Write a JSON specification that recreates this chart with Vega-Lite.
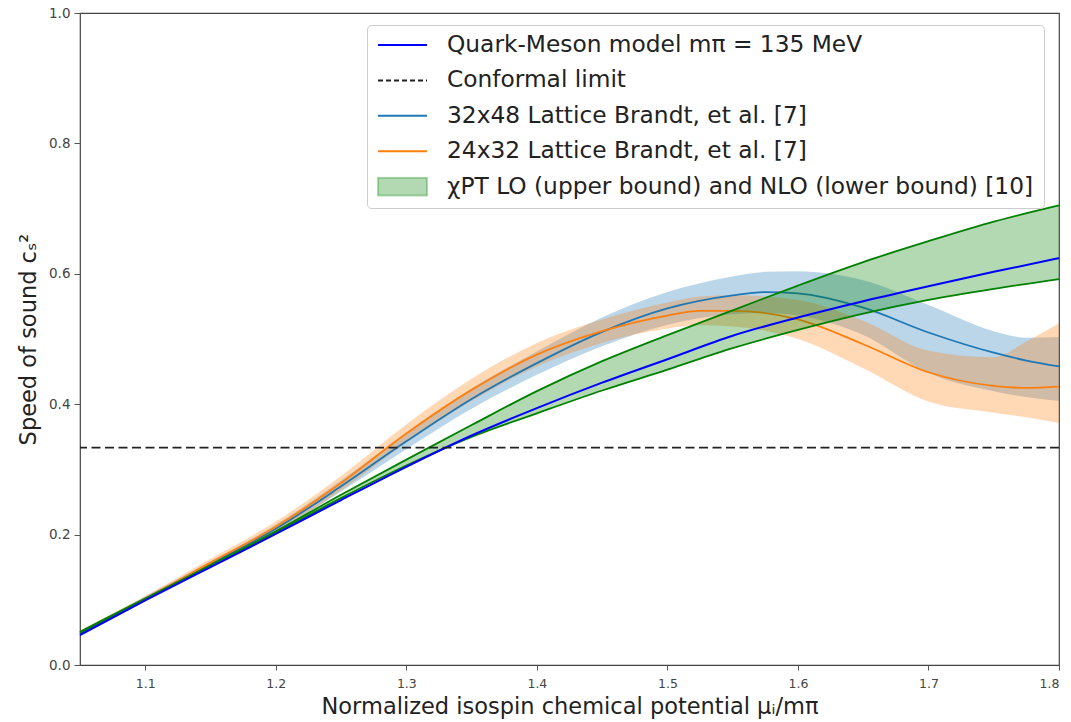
{
  "$schema": "https://vega.github.io/schema/vega-lite/v6.json",
  "width": 979,
  "height": 652,
  "autosize": {"type": "none"},
  "padding": {"left": 80, "top": 13, "right": 12, "bottom": 57},
  "background": "white",
  "config": {
    "font": "DejaVu Sans",
    "view": {"stroke": "#444444", "strokeWidth": 1.2},
    "axis": {
      "grid": false,
      "domain": false,
      "labelFont": "DejaVu Sans",
      "labelColor": "#444444",
      "tickColor": "#555555",
      "tickWidth": 1,
      "titleFont": "DejaVu Sans",
      "titleFontSize": 22.5,
      "titleFontWeight": "normal",
      "titleColor": "#222222"
    }
  },
  "datasets": {
    "bands": [
      {"series": "32x48 Lattice Brandt, et al. [7]", "x": 1.05, "lo": 0.048, "mid": 0.050, "hi": 0.052},
      {"series": "32x48 Lattice Brandt, et al. [7]", "x": 1.10, "lo": 0.099, "mid": 0.102, "hi": 0.105},
      {"series": "32x48 Lattice Brandt, et al. [7]", "x": 1.15, "lo": 0.151, "mid": 0.155, "hi": 0.159},
      {"series": "32x48 Lattice Brandt, et al. [7]", "x": 1.20, "lo": 0.203, "mid": 0.209, "hi": 0.215},
      {"series": "32x48 Lattice Brandt, et al. [7]", "x": 1.25, "lo": 0.266, "mid": 0.274, "hi": 0.283},
      {"series": "32x48 Lattice Brandt, et al. [7]", "x": 1.30, "lo": 0.331, "mid": 0.343, "hi": 0.356},
      {"series": "32x48 Lattice Brandt, et al. [7]", "x": 1.35, "lo": 0.393, "mid": 0.408, "hi": 0.424},
      {"series": "32x48 Lattice Brandt, et al. [7]", "x": 1.40, "lo": 0.445, "mid": 0.463, "hi": 0.481},
      {"series": "32x48 Lattice Brandt, et al. [7]", "x": 1.45, "lo": 0.489, "mid": 0.511, "hi": 0.533},
      {"series": "32x48 Lattice Brandt, et al. [7]", "x": 1.50, "lo": 0.522, "mid": 0.547, "hi": 0.572},
      {"series": "32x48 Lattice Brandt, et al. [7]", "x": 1.55, "lo": 0.538, "mid": 0.567, "hi": 0.596},
      {"series": "32x48 Lattice Brandt, et al. [7]", "x": 1.575, "lo": 0.540, "mid": 0.572, "hi": 0.603},
      {"series": "32x48 Lattice Brandt, et al. [7]", "x": 1.60, "lo": 0.536, "mid": 0.570, "hi": 0.604},
      {"series": "32x48 Lattice Brandt, et al. [7]", "x": 1.65, "lo": 0.506, "mid": 0.548, "hi": 0.590},
      {"series": "32x48 Lattice Brandt, et al. [7]", "x": 1.70, "lo": 0.448, "mid": 0.510, "hi": 0.552},
      {"series": "32x48 Lattice Brandt, et al. [7]", "x": 1.75, "lo": 0.420, "mid": 0.479, "hi": 0.512},
      {"series": "32x48 Lattice Brandt, et al. [7]", "x": 1.775, "lo": 0.411, "mid": 0.467, "hi": 0.502},
      {"series": "32x48 Lattice Brandt, et al. [7]", "x": 1.80, "lo": 0.405, "mid": 0.458, "hi": 0.503},

      {"series": "24x32 Lattice Brandt, et al. [7]", "x": 1.05, "lo": 0.047, "mid": 0.050, "hi": 0.053},
      {"series": "24x32 Lattice Brandt, et al. [7]", "x": 1.10, "lo": 0.098, "mid": 0.102, "hi": 0.106},
      {"series": "24x32 Lattice Brandt, et al. [7]", "x": 1.15, "lo": 0.151, "mid": 0.157, "hi": 0.163},
      {"series": "24x32 Lattice Brandt, et al. [7]", "x": 1.20, "lo": 0.204, "mid": 0.212, "hi": 0.220},
      {"series": "24x32 Lattice Brandt, et al. [7]", "x": 1.25, "lo": 0.268, "mid": 0.279, "hi": 0.290},
      {"series": "24x32 Lattice Brandt, et al. [7]", "x": 1.30, "lo": 0.341, "mid": 0.355, "hi": 0.369},
      {"series": "24x32 Lattice Brandt, et al. [7]", "x": 1.35, "lo": 0.405, "mid": 0.422, "hi": 0.439},
      {"series": "24x32 Lattice Brandt, et al. [7]", "x": 1.40, "lo": 0.458, "mid": 0.476, "hi": 0.494},
      {"series": "24x32 Lattice Brandt, et al. [7]", "x": 1.45, "lo": 0.494, "mid": 0.512, "hi": 0.530},
      {"series": "24x32 Lattice Brandt, et al. [7]", "x": 1.50, "lo": 0.516, "mid": 0.536, "hi": 0.556},
      {"series": "24x32 Lattice Brandt, et al. [7]", "x": 1.525, "lo": 0.521, "mid": 0.543, "hi": 0.565},
      {"series": "24x32 Lattice Brandt, et al. [7]", "x": 1.55, "lo": 0.519, "mid": 0.543, "hi": 0.567},
      {"series": "24x32 Lattice Brandt, et al. [7]", "x": 1.60, "lo": 0.500, "mid": 0.530, "hi": 0.560},
      {"series": "24x32 Lattice Brandt, et al. [7]", "x": 1.65, "lo": 0.455, "mid": 0.492, "hi": 0.528},
      {"series": "24x32 Lattice Brandt, et al. [7]", "x": 1.70, "lo": 0.404, "mid": 0.449, "hi": 0.482},
      {"series": "24x32 Lattice Brandt, et al. [7]", "x": 1.75, "lo": 0.387, "mid": 0.428, "hi": 0.472},
      {"series": "24x32 Lattice Brandt, et al. [7]", "x": 1.775, "lo": 0.380, "mid": 0.425, "hi": 0.496},
      {"series": "24x32 Lattice Brandt, et al. [7]", "x": 1.80, "lo": 0.371, "mid": 0.427, "hi": 0.524},

      {"series": "χPT LO (upper bound) and NLO (lower bound) [10]", "x": 1.05, "lo": 0.049, "hi": 0.051},
      {"series": "χPT LO (upper bound) and NLO (lower bound) [10]", "x": 1.10, "lo": 0.101, "hi": 0.102},
      {"series": "χPT LO (upper bound) and NLO (lower bound) [10]", "x": 1.15, "lo": 0.152, "hi": 0.153},
      {"series": "χPT LO (upper bound) and NLO (lower bound) [10]", "x": 1.20, "lo": 0.203, "hi": 0.205},
      {"series": "χPT LO (upper bound) and NLO (lower bound) [10]", "x": 1.25, "lo": 0.256, "hi": 0.261},
      {"series": "χPT LO (upper bound) and NLO (lower bound) [10]", "x": 1.30, "lo": 0.306, "hi": 0.315},
      {"series": "χPT LO (upper bound) and NLO (lower bound) [10]", "x": 1.35, "lo": 0.350, "hi": 0.368},
      {"series": "χPT LO (upper bound) and NLO (lower bound) [10]", "x": 1.40, "lo": 0.386, "hi": 0.420},
      {"series": "χPT LO (upper bound) and NLO (lower bound) [10]", "x": 1.45, "lo": 0.421, "hi": 0.466},
      {"series": "χPT LO (upper bound) and NLO (lower bound) [10]", "x": 1.50, "lo": 0.453, "hi": 0.506},
      {"series": "χPT LO (upper bound) and NLO (lower bound) [10]", "x": 1.55, "lo": 0.486, "hi": 0.544},
      {"series": "χPT LO (upper bound) and NLO (lower bound) [10]", "x": 1.60, "lo": 0.514, "hi": 0.582},
      {"series": "χPT LO (upper bound) and NLO (lower bound) [10]", "x": 1.65, "lo": 0.539, "hi": 0.618},
      {"series": "χPT LO (upper bound) and NLO (lower bound) [10]", "x": 1.70, "lo": 0.560, "hi": 0.650},
      {"series": "χPT LO (upper bound) and NLO (lower bound) [10]", "x": 1.75, "lo": 0.577, "hi": 0.680},
      {"series": "χPT LO (upper bound) and NLO (lower bound) [10]", "x": 1.80, "lo": 0.592, "hi": 0.705}
    ],
    "qm": [
      {"series": "Quark-Meson model mπ = 135 MeV", "x": 1.05, "y": 0.046},
      {"series": "Quark-Meson model mπ = 135 MeV", "x": 1.10, "y": 0.099},
      {"series": "Quark-Meson model mπ = 135 MeV", "x": 1.15, "y": 0.150},
      {"series": "Quark-Meson model mπ = 135 MeV", "x": 1.20, "y": 0.201},
      {"series": "Quark-Meson model mπ = 135 MeV", "x": 1.25, "y": 0.253},
      {"series": "Quark-Meson model mπ = 135 MeV", "x": 1.30, "y": 0.304},
      {"series": "Quark-Meson model mπ = 135 MeV", "x": 1.35, "y": 0.352},
      {"series": "Quark-Meson model mπ = 135 MeV", "x": 1.40, "y": 0.394},
      {"series": "Quark-Meson model mπ = 135 MeV", "x": 1.45, "y": 0.433},
      {"series": "Quark-Meson model mπ = 135 MeV", "x": 1.50, "y": 0.469},
      {"series": "Quark-Meson model mπ = 135 MeV", "x": 1.55, "y": 0.505},
      {"series": "Quark-Meson model mπ = 135 MeV", "x": 1.60, "y": 0.533},
      {"series": "Quark-Meson model mπ = 135 MeV", "x": 1.65, "y": 0.558},
      {"series": "Quark-Meson model mπ = 135 MeV", "x": 1.70, "y": 0.581},
      {"series": "Quark-Meson model mπ = 135 MeV", "x": 1.75, "y": 0.603},
      {"series": "Quark-Meson model mπ = 135 MeV", "x": 1.80, "y": 0.624}
    ],
    "conformal": [
      {"series": "Conformal limit", "y": 0.3333333}
    ]
  },
  "encoding": {
    "x": {
      "field": "x",
      "type": "quantitative",
      "scale": {"domain": [1.05, 1.8], "nice": false, "zero": false},
      "axis": {
        "title": "Normalized isospin chemical potential μᵢ/mπ",
        "values": [1.1, 1.2, 1.3, 1.4, 1.5, 1.6, 1.7, 1.8],
        "format": ".1f",
        "labelFontSize": 12.5,
        "tickSize": 5,
        "labelPadding": 7,
        "titlePadding": 6
      }
    },
    "color": {
      "field": "series",
      "type": "nominal",
      "scale": {
        "domain": [
          "Quark-Meson model mπ = 135 MeV",
          "Conformal limit",
          "32x48 Lattice Brandt, et al. [7]",
          "24x32 Lattice Brandt, et al. [7]",
          "χPT LO (upper bound) and NLO (lower bound) [10]"
        ],
        "range": ["#0000ff", "#222222", "#1f77b4", "#ff7f0e", "#008000"]
      },
      "legend": {
        "title": null,
        "orient": "none",
        "legendX": 287,
        "legendY": 12,
        "symbolType": "stroke",
        "symbolSize": 2401,
        "symbolStrokeWidth": 2,
        "clipHeight": 20,
        "labelFont": "DejaVu Sans",
        "labelFontSize": 23.3,
        "labelColor": "#222222",
        "labelOffset": 19,
        "labelLimit": 0,
        "rowPadding": 11.4,
        "padding": 10,
        "strokeColor": "#cccccc",
        "fillColor": "rgba(255,255,255,0.85)",
        "cornerRadius": 4,
        "encode": {
          "symbols": {
            "update": {
              "shape": [
                {"test": "datum.value === 'χPT LO (upper bound) and NLO (lower bound) [10]'", "value": "M-1,-0.36H1V0.36H-1Z"},
                {"value": "stroke"}
              ],
              "fill": [
                {"test": "datum.value === 'χPT LO (upper bound) and NLO (lower bound) [10]'", "value": "#008000"},
                {"value": "transparent"}
              ],
              "fillOpacity": {"value": 0.3},
              "stroke": {"scale": "color", "field": "value"},
              "strokeOpacity": [
                {"test": "datum.value === 'χPT LO (upper bound) and NLO (lower bound) [10]'", "value": 0.3},
                {"value": 1}
              ],
              "strokeDash": [
                {"test": "datum.value === 'Conformal limit'", "value": [5, 3]},
                {"value": []}
              ],
              "strokeWidth": {"value": 2},
              "opacity": {"value": 1}
            }
          }
        }
      }
    }
  },
  "layer": [
    {
      "data": {"name": "bands"},
      "transform": [{"filter": {"field": "series", "oneOf": ["32x48 Lattice Brandt, et al. [7]", "24x32 Lattice Brandt, et al. [7]"]}}],
      "mark": {"type": "area", "opacity": 0.3, "interpolate": "monotone"},
      "encoding": {
        "y": {
          "field": "lo",
          "type": "quantitative",
          "stack": null,
          "scale": {"domain": [0, 1], "nice": false},
          "axis": {
            "title": "Speed of sound cₛ²",
            "values": [0, 0.2, 0.4, 0.6, 0.8, 1.0],
            "format": ".1f",
            "labelFontSize": 13.5,
            "tickSize": 6,
            "labelPadding": 4,
            "titlePadding": 8
          }
        },
        "y2": {"field": "hi"}
      }
    },
    {
      "data": {"name": "bands"},
      "transform": [{"filter": {"field": "series", "oneOf": ["32x48 Lattice Brandt, et al. [7]", "24x32 Lattice Brandt, et al. [7]"]}}],
      "mark": {"type": "line", "strokeWidth": 1.8, "interpolate": "monotone"},
      "encoding": {
        "y": {"field": "mid", "type": "quantitative"}
      }
    },
    {
      "data": {"name": "bands"},
      "transform": [{"filter": {"field": "series", "equal": "χPT LO (upper bound) and NLO (lower bound) [10]"}}],
      "mark": {"type": "area", "opacity": 0.3, "interpolate": "monotone"},
      "encoding": {
        "y": {"field": "lo", "type": "quantitative", "stack": null},
        "y2": {"field": "hi"}
      }
    },
    {
      "data": {"name": "bands"},
      "transform": [{"filter": {"field": "series", "equal": "χPT LO (upper bound) and NLO (lower bound) [10]"}}],
      "mark": {"type": "line", "strokeWidth": 1.8, "interpolate": "monotone"},
      "encoding": {
        "y": {"field": "hi", "type": "quantitative"}
      }
    },
    {
      "data": {"name": "bands"},
      "transform": [{"filter": {"field": "series", "equal": "χPT LO (upper bound) and NLO (lower bound) [10]"}}],
      "mark": {"type": "line", "strokeWidth": 1.8, "interpolate": "monotone"},
      "encoding": {
        "y": {"field": "lo", "type": "quantitative"}
      }
    },
    {
      "data": {"name": "qm"},
      "mark": {"type": "line", "strokeWidth": 2, "interpolate": "monotone"},
      "encoding": {
        "y": {"field": "y", "type": "quantitative"}
      }
    },
    {
      "data": {"name": "conformal"},
      "mark": {"type": "rule", "strokeWidth": 1.8, "strokeDash": [9, 4.5]},
      "encoding": {
        "y": {"field": "y", "type": "quantitative"},
        "x": null
      }
    }
  ]
}
